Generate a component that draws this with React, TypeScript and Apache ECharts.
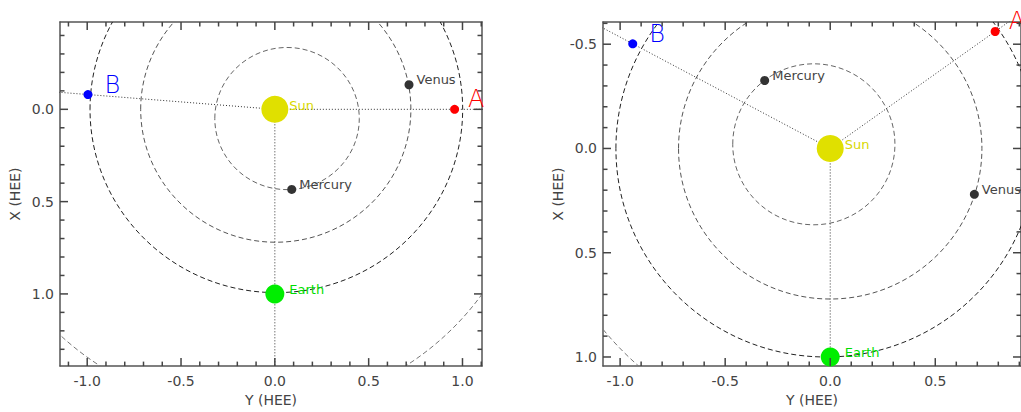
import { useEffect, useRef } from 'react';
import * as echarts from 'echarts';

// ---------- data ----------
const BODY_NAMES = ['Sun', 'Mercury', 'Venus', 'Earth', 'A', 'B'];
// positions: Y(HEE) on horizontal axis, X(HEE) on vertical axis
const LEFT_BODY_Y = [0.0, 0.09, 0.715, 0.0, 0.958, -0.996];
const LEFT_BODY_X = [0.0, 0.434, -0.133, 1.0, 0.0, -0.08];
const RIGHT_BODY_Y = [0.0, -0.312, 0.686, 0.0, 0.785, -0.94];
const RIGHT_BODY_X = [0.0, -0.326, 0.22, 1.0, -0.561, -0.502];

const ORBIT_NAMES = ['Mercury', 'Venus', 'Earth', 'Mars'];
const LEFT_ORBIT_CY = [0.065, 0.005, 0.008, -0.117];
const LEFT_ORBIT_CX = [0.05, 0.0, 0.0, 0.13];
const LEFT_ORBIT_R = [0.385, 0.72, 0.993, 1.5];
const RIGHT_ORBIT_CY = [-0.078, 0.0, -0.02, 0.1];
const RIGHT_ORBIT_CX = [-0.02, 0.0, 0.0, -0.1];
const RIGHT_ORBIT_R = [0.386, 0.722, 1.0, 1.527];

const RAY_BODIES = ['A', 'B', 'Earth'];

const X_MAJOR = [-1.0, -0.5, 0.0, 0.5, 1.0];
const LEFT_X_MINOR = [-1.1, -0.9, -0.8, -0.7, -0.6, -0.4, -0.3, -0.2, -0.1, 0.1, 0.2, 0.3, 0.4, 0.6, 0.7, 0.8, 0.9, 1.1];
const LEFT_Y_MAJOR = [0.0, 0.5, 1.0];
const LEFT_Y_MINOR = [-0.4, -0.3, -0.2, -0.1, 0.1, 0.2, 0.3, 0.4, 0.6, 0.7, 0.8, 0.9, 1.1, 1.2, 1.3];
const RIGHT_X_MINOR = [-0.9, -0.8, -0.7, -0.6, -0.4, -0.3, -0.2, -0.1, 0.1, 0.2, 0.3, 0.4, 0.6, 0.7, 0.8, 0.9];
const RIGHT_Y_MAJOR = [-0.5, 0.0, 0.5, 1.0];
const RIGHT_Y_MINOR = [-0.6, -0.4, -0.3, -0.2, -0.1, 0.1, 0.2, 0.3, 0.4, 0.6, 0.7, 0.8, 0.9];

const LEFT_X_RANGE = [-1.145, 1.104];
const LEFT_Y_RANGE = [-0.473, 1.391];
const RIGHT_X_RANGE = [-1.0815, 0.908];
const RIGHT_Y_RANGE = [-0.6065, 1.0437];

const X_TITLE = 'Y (HEE)';
const Y_TITLE = 'X (HEE)';

// ---------- styles ----------
const FONT = "'DejaVu Sans', sans-serif";
const FRAME = '#555555';
const TICK_COLOR = '#444444';
const TXT = '#444444';
const BODY_COLORS = ['#e0e000', '#333333', '#333333', '#00ee00', '#ff0000', '#0000ff'];
const BODY_LABEL_COLORS = ['#d8d800', '#444444', '#444444', '#00dd00', '#ff0000', '#0000ff'];
const BODY_SIZES = [27, 9, 9, 19, 9, 9];
const BODY_FONT = [13, 13, 13, 13, 24, 24];
const BODY_WEIGHT = [400, 400, 400, 400, 300, 300];
const BODY_DIST = [1, 3, 3, 5, 9, 12];
const BODY_DY = [-4, -5, -5, -4, -10, -10];
const ORBIT_COLORS = ['#666666', '#555555', '#222222', '#777777'];
const MAJOR_LEN = 8;
const MINOR_LEN = 4.5;
const TICK_W = 1.5;

function makeAxes(grid: number, isX: boolean, range: number[], major: number[], name: string) {
  const common: any = {
    type: 'value',
    gridIndex: grid,
    min: range[0],
    max: range[1],
    inverse: !isX,
    splitLine: { show: false },
    axisTick: { show: false },
  };
  const line = { show: true, onZero: false, lineStyle: { color: FRAME, width: 1.5 } };
  const main = {
    ...common,
    position: isX ? 'bottom' : 'left',
    axisLine: line,
    axisLabel: {
      show: true,
      customValues: major,
      formatter: (v: number) => v.toFixed(1),
      color: TXT,
      fontSize: 14,
      fontFamily: FONT,
      margin: isX ? 8 : 6,
    },
    name,
    nameLocation: 'middle',
    nameGap: isX ? 24 : 38,
    nameTextStyle: { color: TXT, fontSize: 14, fontFamily: FONT },
  };
  const opp = {
    ...common,
    position: isX ? 'top' : 'right',
    axisLine: line,
    axisLabel: { show: false },
  };
  return [main, opp];
}

function makeTickSeries(axisIdx: number, isX: boolean, major: number[], minor: number[]) {
  const data = [...major.map((v) => [v, 1]), ...minor.map((v) => [v, 0])];
  return {
    type: 'custom',
    xAxisIndex: axisIdx,
    yAxisIndex: axisIdx,
    silent: true,
    clip: false,
    z: 5,
    data: data.map((d) => (isX ? [d[0], 0, d[1]] : [0, d[0], d[1]])),
    encode: { x: 0, y: 1 },
    renderItem: (params: any, api: any) => {
      const cs = params.coordSys;
      const len = api.value(2) ? MAJOR_LEN : MINOR_LEN;
      const p = api.coord([api.value(0), api.value(1)]);
      const style = { fill: TICK_COLOR };
      if (isX) {
        const x = p[0] - TICK_W / 2;
        return {
          type: 'group',
          children: [
            { type: 'rect', shape: { x, y: cs.y + cs.height - len, width: TICK_W, height: len }, style },
            { type: 'rect', shape: { x, y: cs.y, width: TICK_W, height: len }, style },
          ],
        };
      }
      const y = p[1] - TICK_W / 2;
      return {
        type: 'group',
        children: [
          { type: 'rect', shape: { x: cs.x, y, width: len, height: TICK_W }, style },
          { type: 'rect', shape: { x: cs.x + cs.width - len, y, width: len, height: TICK_W }, style },
        ],
      };
    },
  };
}

function makeSeries(axisIdx: number, bodyY: number[], bodyX: number[], orbY: number[], orbX: number[], orbR: number[]) {
  const series: any[] = [];
  series.push({
    type: 'custom',
    xAxisIndex: axisIdx,
    yAxisIndex: axisIdx,
    clip: true,
    silent: true,
    z: 1,
    data: ORBIT_NAMES.map((n, i) => ({ name: n, value: [orbY[i], orbX[i], orbR[i]] })),
    encode: { x: 0, y: 1 },
    renderItem: (params: any, api: any) => {
      const c = api.coord([api.value(0), api.value(1)]);
      const r = api.value(2);
      const sx = api.size([r, 0])[0];
      const sy = api.size([0, r])[1];
      return {
        type: 'ellipse',
        shape: { cx: c[0], cy: c[1], rx: sx, ry: sy },
        style: { fill: 'none', stroke: ORBIT_COLORS[params.dataIndex], lineWidth: 1, lineDash: [5, 3] },
      };
    },
  });
  RAY_BODIES.forEach((b) => {
    const i = BODY_NAMES.indexOf(b);
    series.push({
      type: 'line',
      xAxisIndex: axisIdx,
      yAxisIndex: axisIdx,
      clip: true,
      silent: true,
      symbol: 'none',
      z: 2,
      lineStyle: { color: '#333333', width: 1, type: [1, 2] },
      data: [
        [0, 0],
        [bodyY[i] * 3, bodyX[i] * 3],
      ],
    });
  });
  series.push({
    type: 'scatter',
    xAxisIndex: axisIdx,
    yAxisIndex: axisIdx,
    z: 3,
    silent: true,
    data: BODY_NAMES.map((n, i) => ({
      name: n,
      value: [bodyY[i], bodyX[i]],
      symbolSize: BODY_SIZES[i],
      itemStyle: { color: BODY_COLORS[i], opacity: 1 },
      label: {
        show: true,
        position: 'right',
        formatter: n,
        distance: BODY_DIST[i],
        offset: [0, BODY_DY[i]],
        color: BODY_LABEL_COLORS[i],
        fontSize: BODY_FONT[i],
        fontFamily: FONT,
        fontWeight: BODY_WEIGHT[i],
      },
    })),
  });
  return series;
}

export default function App() {
  const ref = useRef<HTMLDivElement>(null);
  useEffect(() => {
    if (!ref.current) return;
    const chart = echarts.init(ref.current, null, { renderer: 'svg' });
    const option: any = {
      animation: false,
      backgroundColor: '#ffffff',
      grid: [
        { left: 60, top: 22, width: 422, height: 351, containLabel: false },
        { left: 603, top: 22, width: 422, height: 351, containLabel: false },
      ],
      xAxis: [
        ...makeAxes(0, true, LEFT_X_RANGE, X_MAJOR, X_TITLE),
        ...makeAxes(1, true, RIGHT_X_RANGE, X_MAJOR, X_TITLE),
      ],
      yAxis: [
        ...makeAxes(0, false, LEFT_Y_RANGE, LEFT_Y_MAJOR, Y_TITLE),
        ...makeAxes(1, false, RIGHT_Y_RANGE, RIGHT_Y_MAJOR, Y_TITLE),
      ],
      series: [
        ...makeSeries(0, LEFT_BODY_Y, LEFT_BODY_X, LEFT_ORBIT_CY, LEFT_ORBIT_CX, LEFT_ORBIT_R),
        ...makeSeries(2, RIGHT_BODY_Y, RIGHT_BODY_X, RIGHT_ORBIT_CY, RIGHT_ORBIT_CX, RIGHT_ORBIT_R),
        makeTickSeries(0, true, X_MAJOR, LEFT_X_MINOR),
        makeTickSeries(0, false, LEFT_Y_MAJOR, LEFT_Y_MINOR),
        makeTickSeries(2, true, X_MAJOR, RIGHT_X_MINOR),
        makeTickSeries(2, false, RIGHT_Y_MAJOR, RIGHT_Y_MINOR),
      ],
    };
    chart.setOption(option);
    return () => chart.dispose();
  }, []);
  return (
    <div
      ref={ref}
      style={{ position: 'absolute', left: 0, top: 0, width: 1021, height: 412 }}
    />
  );
}
